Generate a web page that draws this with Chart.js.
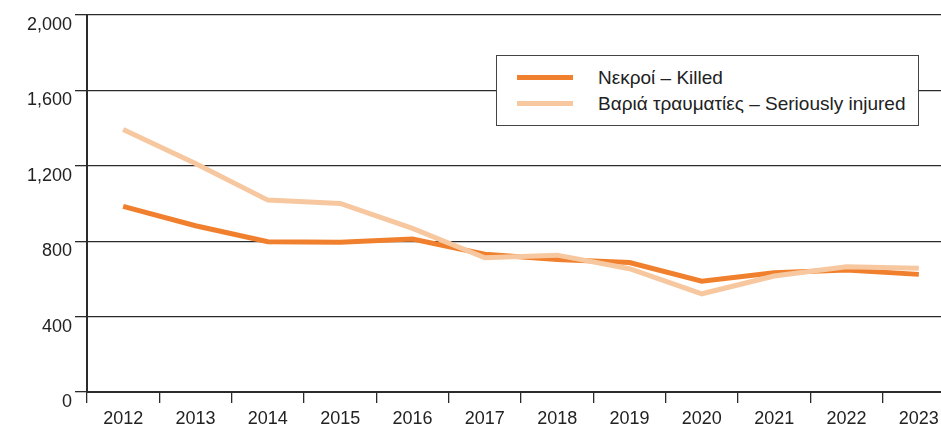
<!DOCTYPE html>
<html>
<head>
<meta charset="utf-8">
<script src="https://cdn.jsdelivr.net/npm/chart.js@4.4.1/dist/chart.umd.min.js"></script>
<style>
  html, body { margin: 0; padding: 0; background: #fff; overflow: hidden; }
  #wrap { position: relative; width: 965px; height: 425px; }
  #legendBox {
    position: absolute; left: 496px; top: 55px; width: 421px; height: 69px;
    border: 1.5px solid #444; background: #fff;
    font-family: "Liberation Sans", Arial, sans-serif; font-size: 19px; color: #222;
  }
  .row { position: absolute; left: 0; height: 22px; line-height: 22px; white-space: nowrap; }
  .swatch { position: absolute; left: 20px; top: 8px; width: 56px; height: 5px; }
  .label { position: absolute; left: 101px; top: 0; }
</style>
</head>
<body>
<div id="wrap">
  <canvas id="roadChart" width="965" height="425"></canvas>
  <div id="legendBox"></div>
</div>
<script>
const years = ["2012", "2013", "2014", "2015", "2016", "2017", "2018", "2019", "2020", "2021", "2022", "2023"];
const killed = [985, 882, 797, 795, 812, 731, 703, 687, 588, 632, 647, 624];
const seriouslyInjured = [1392, 1212, 1018, 1000, 868, 712, 726, 654, 521, 615, 664, 657];
const seriesNames = ["Νεκροί – Killed", "Βαριά τραυματίες – Seriously injured"];
const yTicks = [0, 400, 800, 1200, 1600, 2000];

const FONT = "'Liberation Sans', Arial, sans-serif";
const axisColor = "#2b2b2b";

const ctx = document.getElementById("roadChart");
const chart = new Chart(ctx, {
    type: 'line',
    data: {
        labels: years,
        datasets: [
            {
                label: seriesNames[0],
                data: killed,
                borderColor: "rgb(240, 128, 45)",
                backgroundColor: "rgb(240, 128, 45)",
                borderWidth: 5,
                pointRadius: 0,
                tension: 0,
                order: 2
            },
            {
                label: seriesNames[1],
                data: seriouslyInjured,
                borderColor: "rgb(247, 200, 160)",
                backgroundColor: "rgb(247, 200, 160)",
                borderWidth: 5,
                pointRadius: 0,
                tension: 0,
                order: 1
            }
        ]
    },
    options: {
        responsive: false,
        animation: false,
        layout: {
            padding: { left: 0, right: 10, top: 15, bottom: 0 }
        },
        scales: {
            x: {
                type: 'category',
                offset: true,
                grid: {
                    offset: true,
                    drawOnChartArea: false,
                    drawTicks: true,
                    tickLength: 11,
                    color: axisColor,
                    lineWidth: 1.3
                },
                border: { display: true, color: axisColor, width: 2 },
                ticks: {
                    color: "#222",
                    font: { family: FONT, size: 18 },
                    padding: 5,
                    maxRotation: 0,
                    autoSkip: false
                },
                afterFit: function(scale) { scale.height = 33; }
            },
            y: {
                min: 0,
                max: 2000,
                afterBuildTicks: function(scale) {
                    scale.ticks = yTicks.map(v => ({ value: v }));
                },
                grid: {
                    color: axisColor,
                    lineWidth: 1.3,
                    tickLength: 12
                },
                border: { display: true, color: axisColor, width: 2 },
                ticks: {
                    color: "#222",
                    font: { family: FONT, size: 18 },
                    padding: 3,
                    labelOffset: 10,
                    callback: function(value) { return value.toLocaleString('en-US'); }
                },
                afterFit: function(scale) { scale.width = 87; }
            }
        },
        plugins: {
            legend: { display: false },
            tooltip: { enabled: false }
        }
    }
});

// Legend built from the datasets, sitting inside the plot area
const legendBox = document.getElementById("legendBox");
chart.data.datasets.forEach((ds, i) => {
    const row = document.createElement("div");
    row.className = "row";
    row.style.top = (11 + i * 26) + "px";
    row.style.width = "100%";
    const swatch = document.createElement("div");
    swatch.className = "swatch";
    swatch.style.background = ds.borderColor;
    const label = document.createElement("div");
    label.className = "label";
    label.textContent = ds.label;
    row.appendChild(swatch);
    row.appendChild(label);
    legendBox.appendChild(row);
});
</script>
</body>
</html>
